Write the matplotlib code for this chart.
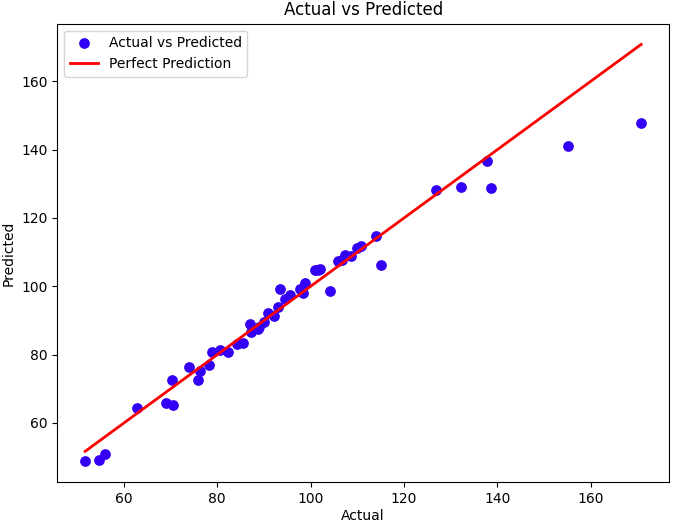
import numpy as np
import matplotlib
matplotlib.use("Agg")
import matplotlib.pyplot as plt

# values
actual = [51.7, 54.7, 55.9, 62.8, 69.0, 70.6, 70.3, 74.0, 75.9, 76.2,
          78.2, 78.9, 80.5, 82.4, 84.3, 85.6, 87.1, 87.3, 88.7, 89.0,
          90.1, 90.9, 92.2, 93.1, 93.4, 94.5, 95.6, 97.7, 98.4, 98.7,
          100.9, 101.6, 102.0, 104.2, 105.9, 106.7, 107.3, 108.6, 109.9, 110.7,
          114.1, 115.0, 126.9, 132.2, 137.7, 138.6, 155.2, 170.8]
predicted = [48.8, 49.1, 50.8, 64.5, 65.8, 65.3, 72.6, 76.3, 72.6, 75.2,
             77.0, 80.8, 81.3, 80.8, 83.0, 83.4, 89.1, 86.5, 87.6, 88.0,
             89.6, 92.3, 91.2, 93.9, 99.1, 96.2, 97.6, 99.1, 97.9, 100.9,
             104.7, 104.9, 105.0, 98.7, 107.4, 107.6, 109.3, 108.8, 111.2, 111.8,
             114.7, 106.1, 128.1, 129.0, 136.8, 128.7, 141.1, 147.8]

plt.rcParams['font.family'] = ['DejaVu Sans']

fig = plt.figure(figsize=(6.75, 5.24), dpi=100)
ax = fig.add_axes([0.085, 0.080, 0.906, 0.875])

ax.scatter(actual, predicted, color='#3300f5', s=45, label='Actual vs Predicted')
lo, hi = min(actual), max(actual)
ax.plot([lo, hi], [lo, hi], color='red', linewidth=2, label='Perfect Prediction')

ax.set_title('Actual vs Predicted', fontsize=12)
ax.set_xlabel('Actual', fontsize=10, labelpad=2)
ax.set_ylabel('Predicted', fontsize=10)
ax.tick_params(labelsize=10)
ax.legend(loc='upper left', fontsize=10)

fig.savefig('out.png', dpi=100)
